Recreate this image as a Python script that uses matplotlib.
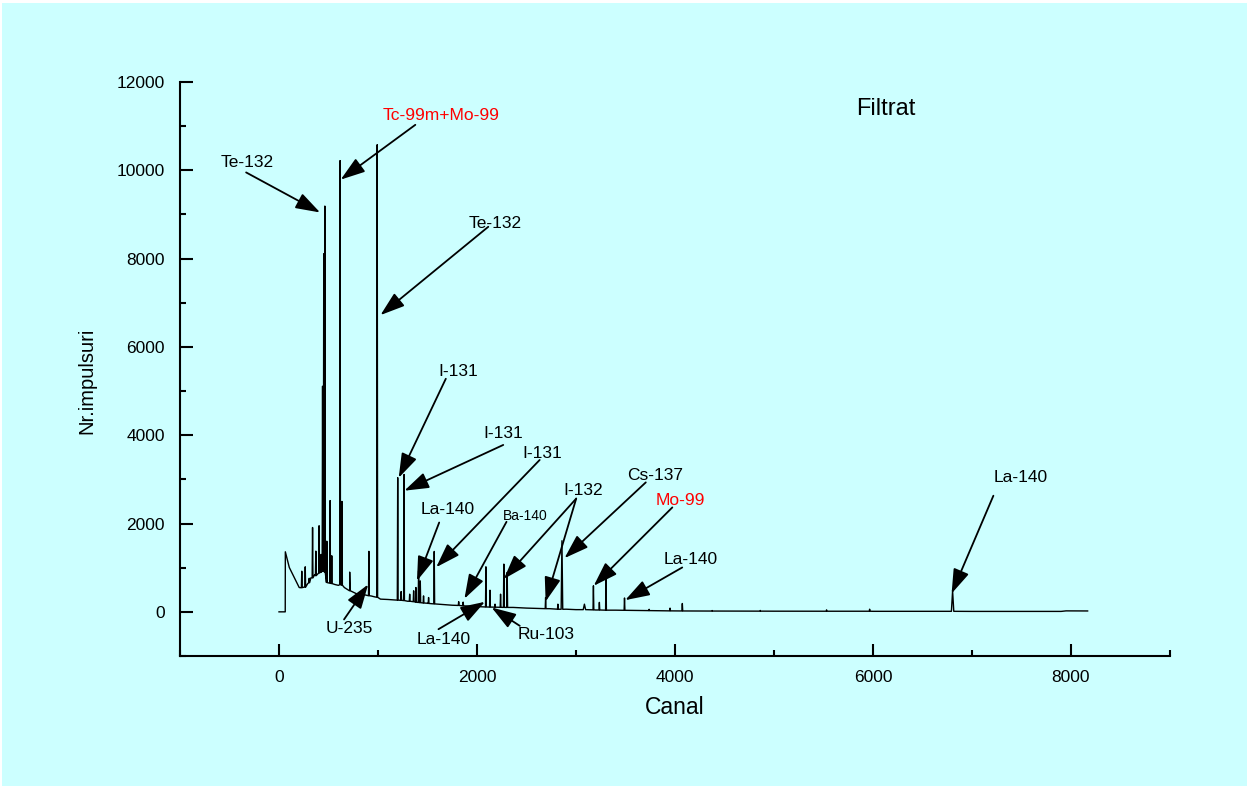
import numpy as np
import matplotlib
matplotlib.use('Agg')
from matplotlib import pyplot as plt
from matplotlib.ticker import MultipleLocator
from matplotlib.patches import Rectangle

plt.rcParams['font.family'] = ['Liberation Sans', 'DejaVu Sans']

# --- spectrum: continuum points (channel, counts) ---
baseline_ch = [0, 63, 64, 104, 154, 204, 225, 255, 290, 322, 360, 400, 430, 490,
               563, 600, 660, 714, 791, 858, 930, 965, 1025, 1100, 1193, 1300, 1400,
               1500, 1600, 1750, 1863, 1950, 2060, 2200, 2365, 2500, 2730, 2900, 3000,
               3200, 3400, 3600, 3740, 4000, 4300, 5000, 6000, 7000, 7900, 7950, 8168]
baseline_ct = [0, 0, 1360, 1005, 778, 551, 545, 560, 640, 770, 840, 880, 950, 660,
               620, 600, 551, 480, 401, 390, 360, 340, 288, 280, 265, 240, 215,
               195, 175, 150, 136, 125, 110, 105, 100, 85, 72, 60, 50,
               42, 38, 32, 28, 22, 18, 15, 12, 10, 10, 22, 20]

# --- peaks: channel, top counts, foot counts, half width (channels) ---
peak_ch = [230, 265, 305, 339, 372, 405, 425, 440, 452, 463,
           483, 516, 533, 617, 636, 714, 908, 992, 1199, 1234,
           1263, 1320, 1360, 1383, 1410, 1427, 1460, 1511, 1568, 1815,
           1860, 2090, 2131, 2182, 2238, 2271, 2305, 2693, 2817, 2858,
           3085, 3176, 3236, 3303, 3490, 3739, 3950, 4074, 4375, 4861,
           5531, 5966, 6804]
peak_top = [920, 1020, 760, 1910, 1375, 1950, 1300, 5110, 8110, 9190,
            1600, 2520, 1270, 10220, 2500, 900, 1370, 10580, 3040, 460,
            3110, 400, 476, 551, 930, 700, 361, 324, 1368, 230,
            220, 1020, 490, 174, 400, 1081, 893, 325, 174, 1610,
            174, 590, 214, 1005, 314, 57, 84, 189, 30, 32,
            45, 60, 476]
peak_foot = [548, 560, 660, 770, 820, 880, 900, 920, 920, 900,
             665, 650, 640, 615, 605, 480, 365, 330, 265, 262,
             255, 240, 230, 220, 212, 208, 200, 190, 180, 145,
             136, 110, 108, 106, 103, 101, 100, 72, 60, 58,
             50, 45, 42, 38, 35, 28, 22, 20, 18, 16,
             14, 14, 12]
peak_hw = [4] * 53
peak_hw[39] = 8     # Cs-137, a bit broader
peak_hw[40] = 12
peak_hw[52] = 12    # La-140 at 6804

# --- labels and arrows ---
lab_text = ['Te-132', 'Tc-99m+Mo-99', 'Te-132', 'I-131', 'I-131', 'I-131', 'La-140',
            'Ba-140', 'I-132', 'Cs-137', 'Mo-99', 'La-140', 'La-140', 'Ru-103',
            'U-235', 'La-140']
lab_x = [-322, 1638, 2181, 1812, 2265, 2660, 1702, 2489, 3068, 3799, 4057, 4157,
         1662, 2700, 714, 7490]
lab_y = [10180, 11231, 8785, 5440, 4039, 3594, 2322, 2161, 2753, 3084, 2533, 1179,
         -635, -522, -374, 3046]
lab_color = ['black', 'red', 'black', 'black', 'black', 'black', 'black', 'black',
             'black', 'black', 'red', 'black', 'black', 'black', 'black', 'black']

arr_x0 = [-332, 1377, 2114, 1685, 2265, 2633, 1618, 2298, 3002, 3002, 3705, 3973,
          4073, 1611, 2432, 657, 7216]
arr_y0 = [9952, 11030, 8721, 5279, 3780, 3440, 2023, 2039, 2565, 2565, 2932, 2365,
          1005, -393, -317, -172, 2630]
arr_x1 = [415, 623, 1025, 1209, 1266, 1588, 1394, 1873, 2271, 2693, 2884, 3179,
          3497, 2080, 2148, 901, 6794]
arr_y1 = [9045, 9789, 6721, 3036, 2744, 1011, 703, 297, 744, 234, 1217, 590,
          265, 227, 98, 621, 415]

# build trace: continuum points plus the three vertices of each peak
pts_ch = list(baseline_ch)
pts_ct = list(baseline_ct)
for c, t, f, w in zip(peak_ch, peak_top, peak_foot, peak_hw):
    pts_ch += [c - w, c, c + w]
    pts_ct += [f, t, f]
pts_ch = np.array(pts_ch, dtype=float)
pts_ct = np.array(pts_ct, dtype=float)
order = np.argsort(pts_ch, kind='stable')
pts_ch, pts_ct = pts_ch[order], pts_ct[order]

bg = '#CCFFFF'
fig = plt.figure(figsize=(12.47, 7.86), dpi=100, facecolor='white')
fig.patches.append(Rectangle((2 / 1247, -0.01), 1.01, 1.01 - 3 / 786,
                             transform=fig.transFigure,
                             facecolor=bg, edgecolor='none', zorder=-10))
ax = fig.add_axes([180 / 1247, 1 - 656 / 786, 990 / 1247, 574 / 786])
ax.set_facecolor('none')

ax.plot(pts_ch, pts_ct, color='black', lw=1.0, zorder=2)

for x0, y0, x1, y1 in zip(arr_x0, arr_y0, arr_x1, arr_y1):
    ax.annotate('', xy=(x1, y1), xytext=(x0, y0),
                arrowprops=dict(arrowstyle='-|>,head_length=1.5,head_width=0.5',
                                mutation_scale=10, lw=1.3, color='black',
                                shrinkA=0, shrinkB=0), zorder=3)

for t, x, y, c in zip(lab_text, lab_x, lab_y, lab_color):
    fs = 10 if t == 'Ba-140' else 12.5
    ax.text(x, y, t, color=c, fontsize=fs, ha='center', va='center', zorder=4)

ax.text(6131, 11383, 'Filtrat', fontsize=17, ha='center', va='center')

ax.set_xlim(-1000, 9000)
ax.set_ylim(-1000, 12000)
ax.xaxis.set_major_locator(MultipleLocator(2000))
ax.xaxis.set_minor_locator(MultipleLocator(1000))
ax.yaxis.set_major_locator(MultipleLocator(2000))
ax.yaxis.set_minor_locator(MultipleLocator(1000))
ax.tick_params(which='major', direction='in', length=9, width=1.5, labelsize=12.5, pad=10)
ax.tick_params(which='minor', direction='in', length=4.5, width=1.5)
ax.tick_params(axis='y', pad=11)
for s in ['top', 'right']:
    ax.spines[s].set_visible(False)
for s in ['left', 'bottom']:
    ax.spines[s].set_linewidth(1.5)

ax.set_xlabel('Canal', fontsize=16.5)
ax.set_ylabel('Nr.impulsuri', fontsize=14.5)
ax.xaxis.label.set_va('center')
ax.yaxis.label.set_va('center')
ax.xaxis.set_label_coords(0.5, (656 - 708) / 574)
ax.yaxis.set_label_coords((87 - 180) / 990, (656 - 381) / 574)

plt.savefig('out.png', dpi=100, facecolor=fig.get_facecolor())
